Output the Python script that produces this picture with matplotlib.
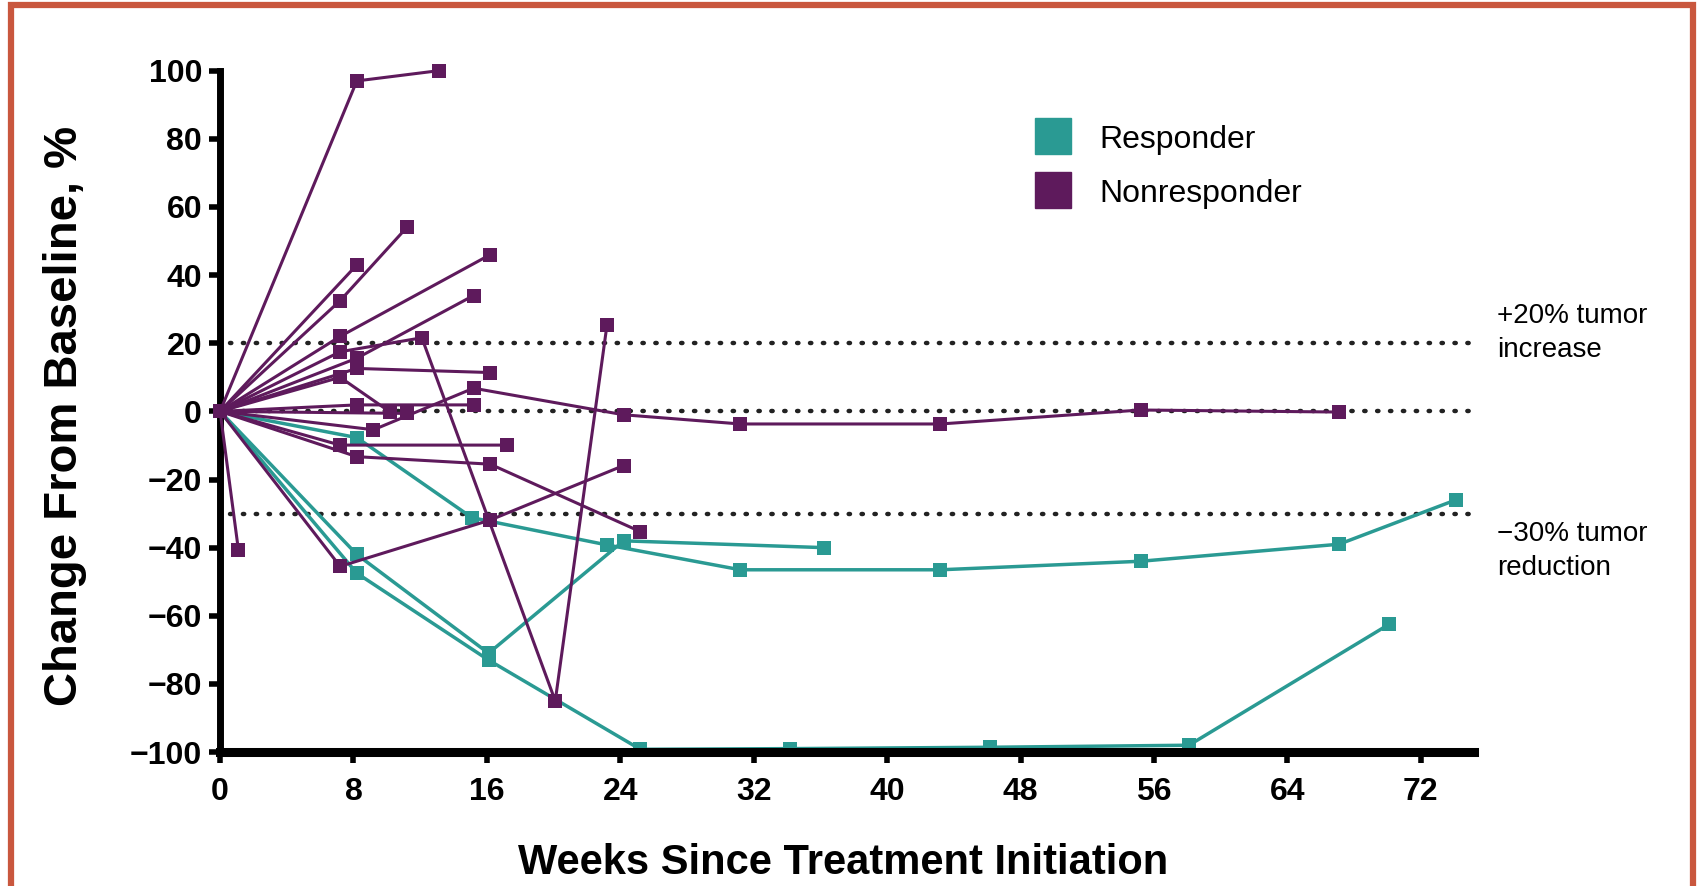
import matplotlib.pyplot as plt
from matplotlib.lines import Line2D
from matplotlib.patches import Rectangle

plt.rcParams['font.family'] = ['Liberation Sans', 'DejaVu Sans']

teal = '#2A9A93'
purple = '#5E1A5C'

# responders: weeks / % change from baseline
resp_weeks = [
    [0, 8.2, 15.1, 23.2, 31.2, 43.2, 55.2, 67.1, 74.1],
    [0, 8.2, 16.1, 24.2, 36.2],
    [0, 8.2, 16.1, 25.2, 34.2, 46.2, 58.1, 70.1],
]
resp_change = [
    [0, -7.7, -31.2, -39.2, -46.5, -46.5, -44, -39, -26],
    [0, -42, -71, -38, -40],
    [0, -47.5, -73, -99.2, -99, -98.6, -98, -62.5],
]

# nonresponders
nonresp_weeks = [
    [0, 8.2, 13.1],
    [0, 7.2, 11.2],
    [0, 8.2],
    [0, 7.2, 16.2],
    [0, 8.2, 15.2],
    [0, 7.2, 12.1, 20.1, 23.2],
    [0, 7.2, 16.2, 24.2],
    [0, 8.2, 16.2],
    [0, 7.2, 10.2],
    [0, 8.2, 15.2],
    [0, 7.2, 17.2],
    [0, 8.2, 16.2, 25.2],
    [0, 9.2, 15.2, 24.2, 31.2, 43.2, 55.2, 67.1],
    [0, 11.2],
    [0, 1.1],
]
nonresp_change = [
    [0, 97, 100],
    [0, 32.5, 54],
    [0, 43],
    [0, 22, 46],
    [0, 15.6, 34],
    [0, 17.5, 21.6, -85, 25.3],
    [0, -45.5, -31.9, -15.9],
    [0, 12.6, 11.4],
    [0, 10, -0.2],
    [0, 1.9, 1.9],
    [0, -9.9, -9.9],
    [0, -13.3, -15.5, -35.3],
    [0, -5.4, 6.8, -1, -3.7, -3.7, 0.4, -0.2],
    [0, -0.6],
    [0, -40.7],
]

ref_levels = [20, 0, -30]
x_ticks = list(range(0, 73, 8))
y_ticks = list(range(-100, 101, 20))

fig = plt.figure(figsize=(17.02, 8.86), dpi=100)
ax = fig.add_axes([0.1293, 0.1512, 0.7368, 0.769])

for lev in ref_levels:
    ax.axhline(lev, xmin=0.008, color='#222222', lw=3.2,
               ls=(0, (0.3, 2.6)), dash_capstyle='round', zorder=1)

for wk, ch in zip(nonresp_weeks, nonresp_change):
    ax.plot(wk, ch, color=purple, lw=2.2, marker='s', ms=10,
            markeredgewidth=0, zorder=3, clip_on=False)
for wk, ch in zip(resp_weeks, resp_change):
    ax.plot(wk, ch, color=teal, lw=2.5, marker='s', ms=10,
            markeredgewidth=0, zorder=2, clip_on=False)

ax.set_xlim(0, 75.2)
ax.set_ylim(-100, 100)
ax.set_xticks(x_ticks)
ax.set_yticks(y_ticks)
ax.set_yticklabels([str(v).replace('-', '\u2212') for v in y_ticks])

for side in ['top', 'right']:
    ax.spines[side].set_visible(False)
ax.spines['left'].set_linewidth(5)
ax.spines['bottom'].set_linewidth(6.5)
ax.spines['left'].set_capstyle('projecting')
ax.tick_params(axis='both', direction='out', length=8, width=4,
               labelsize=23, pad=5)
ax.tick_params(axis='x', pad=10)
for lbl in ax.get_xticklabels() + ax.get_yticklabels():
    lbl.set_fontweight('bold')

ax.set_xlabel('Weeks Since Treatment Initiation', fontsize=30,
              fontweight='bold')
ax.set_ylabel('Change From Baseline, %', fontsize=34, fontweight='bold')
ax.xaxis.set_label_coords(0.497, -0.134)
ax.yaxis.set_label_coords(-0.106, 0.493)

handles = [Line2D([], [], ls='none', marker='s', ms=26, color=teal),
           Line2D([], [], ls='none', marker='s', ms=26, color=purple)]
ax.legend(handles, ['Responder', 'Nonresponder'], loc='upper left',
          bbox_to_anchor=(0.616, 0.963), frameon=False, fontsize=23,
          handletextpad=0.45, labelspacing=0.75)

ax.text(76.6, 23, '+20% tumor\nincrease', fontsize=20, va='center',
        ha='left', linespacing=1.4, clip_on=False)
ax.text(76.6, -41, '\u221230% tumor\nreduction', fontsize=20, va='center',
        ha='left', linespacing=1.4, clip_on=False)

# thin outer frame
fig.patches.append(Rectangle((0.0065, -0.02), 0.9885, 1.0148,
                             transform=fig.transFigure, fill=False,
                             edgecolor='#C9573E', lw=4.5))

fig.savefig('out.png', dpi=100)
